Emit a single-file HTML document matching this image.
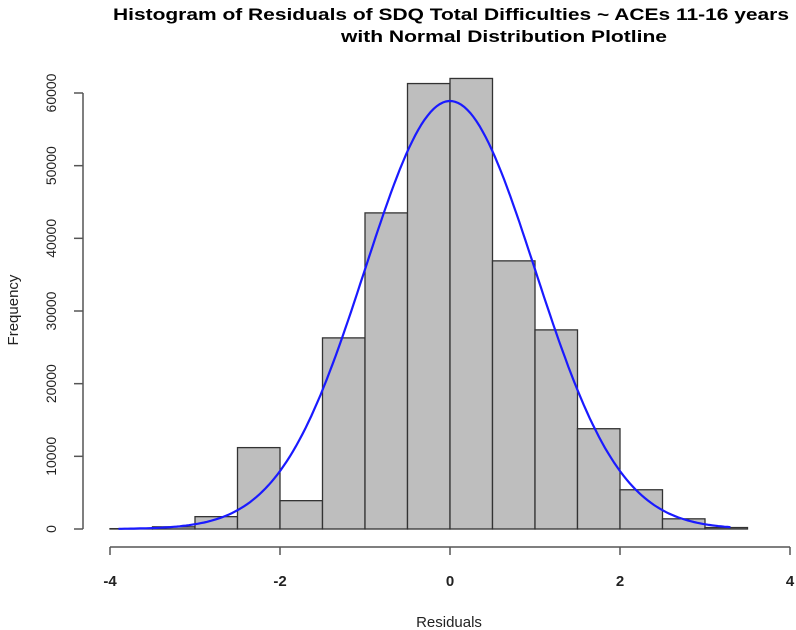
<!DOCTYPE html>
<html><head><meta charset="utf-8"><style>
html,body{margin:0;padding:0;background:#fff;}
svg{display:block;font-family:"Liberation Sans",Arial,sans-serif;}
</style></head><body>
<svg id="chart" width="796" height="630" viewBox="0 0 796 630">
<text x="451" y="20" font-size="17" font-weight="bold" text-anchor="middle" textLength="676" lengthAdjust="spacingAndGlyphs">Histogram of Residuals of SDQ Total Difficulties ~ ACEs 11-16 years</text>
<text x="504" y="42" font-size="17" font-weight="bold" text-anchor="middle" textLength="326" lengthAdjust="spacingAndGlyphs">with Normal Distribution Plotline</text>
<text x="449" y="627" font-size="15" text-anchor="middle" fill="#222">Residuals</text>
<text transform="translate(18,310) rotate(-90)" font-size="15" text-anchor="middle" fill="#222">Frequency</text>
<g id="bars"></g><g id="axes"></g><g id="curve"></g>
</svg>
<script>
const binStarts = [-4,-3.5,-3,-2.5,-2,-1.5,-1,-0.5,0,0.5,1,1.5,2,2.5,3];
const counts = [50,300,1700,11200,3900,26300,43500,61300,62000,36900,27400,13800,5400,1400,200];
const binWidth = [0.5];
const xTicks = [-4,-2,0,2,4];
const yTicks = [0,10000,20000,30000,40000,50000,60000];
const curveParams = [0, 1, 58900]; // mean, sd, peak
const curveRange = [-3.9, 3.3];

const NS = "http://www.w3.org/2000/svg";
const xs = v => 450 + v * 85;
const ys = v => 529 - v * 436 / 60000;
function mk(tag, attrs, parent){const e=document.createElementNS(NS,tag);for(const k in attrs)e.setAttribute(k,attrs[k]);parent.appendChild(e);return e;}
const bars=document.getElementById('bars'), axes=document.getElementById('axes'), curve=document.getElementById('curve');

binStarts.forEach((b,i)=>{
  const x0=xs(b), x1=xs(b+binWidth[0]), y=ys(counts[i]);
  const r=mk('rect',{x:x0,y:y,width:x1-x0,height:ys(0)-y,fill:'#bebebe',stroke:'#333','stroke-width':1.3},bars);
  
  
});

const xl=mk('line',{x1:xs(xTicks[0]),x2:xs(xTicks[xTicks.length-1]),y1:547,y2:547,stroke:'#555','stroke-width':1.5},axes);


xTicks.forEach(t=>{
  mk('line',{x1:xs(t),x2:xs(t),y1:547,y2:555,stroke:'#555','stroke-width':1.5},axes);
  const tx=mk('text',{x:xs(t),y:586,'font-size':15,'font-weight':'bold','text-anchor':'middle',fill:'#222'},axes);
  tx.textContent=t;
  
  
});
const yl=mk('line',{x1:83,x2:83,y1:ys(yTicks[0]),y2:ys(yTicks[yTicks.length-1]),stroke:'#555','stroke-width':1.5},axes);


yTicks.forEach(t=>{
  mk('line',{x1:74,x2:83,y1:ys(t),y2:ys(t),stroke:'#555','stroke-width':1.5},axes);
  const tx=mk('text',{transform:`translate(56,${ys(t)}) rotate(-90)`,'font-size':14,'text-anchor':'middle',fill:'#222'},axes);
  tx.textContent=t;
  
  
});

let d='';
for(let i=0;i<=200;i++){
  const x=curveRange[0]+(curveRange[1]-curveRange[0])*i/200;
  const z=(x-curveParams[0])/curveParams[1];
  const y=curveParams[2]*Math.exp(-0.5*z*z);
  d+=(i?'L':'M')+xs(x).toFixed(1)+','+ys(y).toFixed(1);
}
const p=mk('path',{d:d,fill:'none',stroke:'#1a1aff','stroke-width':2.2},curve);


</script>
</body></html>
